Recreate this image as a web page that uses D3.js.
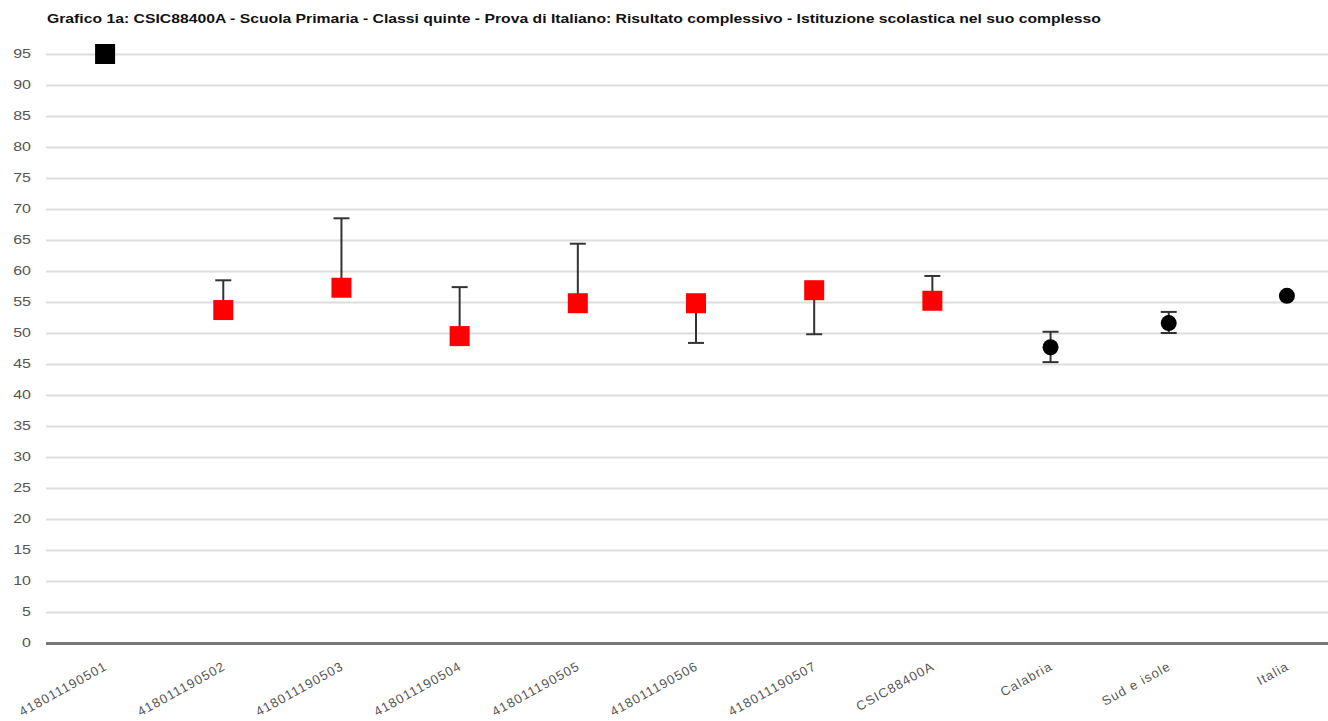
<!DOCTYPE html>
<html><head><meta charset="utf-8">
<script src="https://cdn.jsdelivr.net/npm/d3@7"></script>
<style>
body{margin:0;background:#fff;}
svg{display:block;font-family:"Liberation Sans",Arial,sans-serif;}
</style></head>
<body>
<svg id="c" width="1328" height="721"></svg>
<script>
const title = "Grafico 1a: CSIC88400A - Scuola Primaria - Classi quinte - Prova di Italiano: Risultato complessivo - Istituzione scolastica nel suo complesso";
const categories = ["418011190501","418011190502","418011190503","418011190504","418011190505","418011190506","418011190507","CSIC88400A","Calabria","Sud e isole","Italia"];
const values = [95, 53.7, 57.3, 49.5, 54.8, 54.8, 56.9, 55.2, 47.7, 51.6, 56.0];
const lower  = [null, 53.7, 57.3, 49.5, 54.8, 48.4, 49.8, 55.2, 45.3, 50.0, null];
const upper  = [null, 58.5, 68.5, 57.4, 64.4, 54.8, 56.9, 59.2, 50.2, 53.4, null];
const group  = ["ref-class","class","class","class","class","class","class","school","area","area","area"];
const yTicks = d3.range(0, 96, 5);

(function(){
const svg = d3.select("#c");
const W = 1328, mLeft = 46, mRight = 1346, mTop = 54, mBottom = 643;
const x = d3.scaleBand().domain(categories).range([mLeft, mRight]);
const y = d3.scaleLinear().domain([0, 95]).range([mBottom, mTop]);

svg.append("text").attr("transform", "translate(47,23) scale(1.26,1)")
  .attr("font-size", 12.5).attr("font-weight", "bold")
  .attr("fill", "#111").text(title);

// grid
const stretch = 1.33;
const yAxis = d3.axisLeft(y).tickValues(yTicks).tickSize(-(W - mLeft)).tickPadding(15);
const gy = svg.append("g").attr("transform", `translate(${mLeft},0)`).call(yAxis);
gy.select(".domain").remove();
gy.selectAll(".tick line").attr("stroke", "#dddddd").attr("stroke-width", 2);
gy.selectAll(".tick text").attr("font-size", 12).attr("fill", "#555")
  .attr("font-family", "Liberation Sans, Arial, sans-serif")
  .attr("x", -15 / stretch).attr("transform", `scale(${stretch},1)`);
gy.selectAll(".tick").filter(d => d === 0).select("line").attr("stroke", "#777").attr("stroke-width", 3);

// x labels
const xAxis = d3.axisBottom(x).tickSize(0).tickPadding(0);
const gx = svg.append("g").attr("transform", `translate(0,${mBottom})`).call(xAxis);
gx.select(".domain").remove();
gx.selectAll(".tick text").attr("font-size", 13).attr("fill", "#555")
  .attr("font-family", "Liberation Sans, Arial, sans-serif")
  .attr("letter-spacing", "1.1px")
  .attr("text-anchor", "end").attr("dy", 0)
  .attr("transform", "translate(3,26) rotate(-29)");

const data = categories.map((c, i) => ({c, v: values[i], lo: lower[i], hi: upper[i], g: group[i]}));
const cx = d => x(d.c) + x.bandwidth() / 2;

// error bars
const eb = svg.append("g").selectAll("g").data(data.filter(d => d.lo != null)).join("g");
eb.append("line").attr("x1", cx).attr("x2", cx).attr("y1", d => y(d.lo)).attr("y2", d => y(d.hi))
  .attr("stroke", "#333").attr("stroke-width", 2);
eb.filter(d => d.hi > d.v).append("line").attr("x1", d => cx(d) - 8).attr("x2", d => cx(d) + 8)
  .attr("y1", d => y(d.hi)).attr("y2", d => y(d.hi)).attr("stroke", "#333").attr("stroke-width", 2);
eb.filter(d => d.lo < d.v).append("line").attr("x1", d => cx(d) - 8).attr("x2", d => cx(d) + 8)
  .attr("y1", d => y(d.lo)).attr("y2", d => y(d.lo)).attr("stroke", "#333").attr("stroke-width", 2);

// markers
const s = 20;
svg.append("g").selectAll("rect").data(data.filter(d => d.g !== "area")).join("rect")
  .attr("x", d => cx(d) - s / 2).attr("y", d => y(d.v) - s / 2).attr("width", s).attr("height", s)
  .attr("fill", d => d.g === "ref-class" ? "#000" : "#ff0000");
svg.append("g").selectAll("circle").data(data.filter(d => d.g === "area")).join("circle")
  .attr("cx", cx).attr("cy", d => y(d.v)).attr("r", 8).attr("fill", "#000");
})();
</script>
</body></html>
